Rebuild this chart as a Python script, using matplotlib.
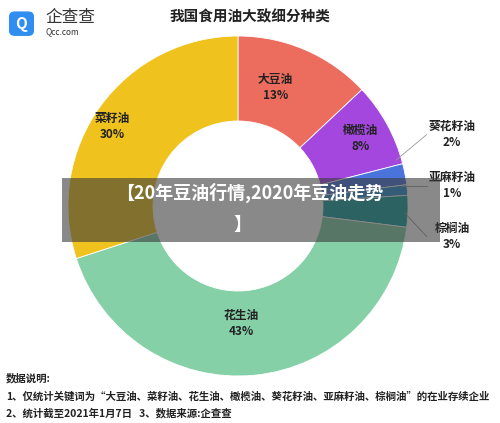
import matplotlib
matplotlib.use("Agg")
import matplotlib.pyplot as plt
from matplotlib.patches import FancyBboxPatch, Rectangle

plt.rcParams['font.family'] = ['Noto Sans CJK SC', 'DejaVu Sans']

labels = ['大豆油', '橄榄油', '葵花籽油', '亚麻籽油', '棕榈油', '花生油', '菜籽油']
shares = [13, 8, 2, 1, 3, 43, 30]
colors = ['#ec6d5e', '#a347de', '#4a74dc', '#2f8fd0', '#1a9e9e', '#86d0a8', '#efc21e']

fig = plt.figure(figsize=(5, 4.23), dpi=100)
fig.patch.set_facecolor('white')

# donut
ax = fig.add_axes([0.476 - 0.34, 0.513 - 0.402, 0.68, 0.804])
wedges, _ = ax.pie(shares, colors=colors, startangle=90, counterclock=False,
                   radius=1.0, wedgeprops=dict(width=0.5, edgecolor='white', linewidth=0.6))
ax.set_aspect('equal')
ax.set_xlim(-1, 1)
ax.set_ylim(-1, 1)
ax.axis('off')

# inside labels
inside = {'大豆油': (0.22, 0.70), '橄榄油': (0.72, 0.40), '花生油': (0.02, -0.69), '菜籽油': (-0.74, 0.47)}
for name, (x, y) in inside.items():
    i = labels.index(name)
    ax.text(x, y, f'{name}\n{shares[i]}%', ha='center', va='center', fontsize=8.5,
            color='#222222', linespacing=1.3, fontweight='bold')

# outside labels with leader lines
outside = {'葵花籽油': ((0.93, 0.27), (1.24, 0.42)),
           '亚麻籽油': ((0.96, 0.12), (1.24, 0.12)),
           '棕榈油': ((0.98, -0.04), (1.24, -0.18))}
for name, (p0, p1) in outside.items():
    i = labels.index(name)
    ax.plot([p0[0], p1[0] - 0.13], [p0[1], p1[1]], color='#999999', lw=0.6, clip_on=False)
    ax.text(p1[0] + 0.02, p1[1], f'{name}\n{shares[i]}%', ha='center', va='center',
            fontsize=8.5, color='#222222', linespacing=1.3, fontweight='bold')

# title and logo
fig.text(0.5, 0.962, '我国食用油大致细分种类', ha='center', va='center', fontsize=10.5,
         fontweight='bold', color='#222222')
fig.patches.append(FancyBboxPatch((0.018, 0.915), 0.05, 0.058, boxstyle='round,pad=0,rounding_size=0.012',
                                  transform=fig.transFigure, facecolor='#2f8ef0', edgecolor='none'))
fig.text(0.043, 0.944, 'Q', ha='center', va='center', fontsize=11, color='white', fontweight='bold')
fig.text(0.09, 0.958, '企查查', ha='left', va='center', fontsize=12, color='#333333')
fig.text(0.09, 0.925, 'Qcc.com', ha='left', va='center', fontsize=6, color='#333333')

# banner overlay
fig.patches.append(Rectangle((0.124, 0.428), 0.756, 0.152, transform=fig.transFigure,
                             facecolor='#3a3a3a', alpha=0.6, edgecolor='none'))
fig.text(0.5, 0.545, '【20年豆油行情,2020年豆油走势', ha='center', va='center', fontsize=13,
         fontweight='bold', color='white')
fig.text(0.486, 0.47, '】', ha='center', va='center', fontsize=13, fontweight='bold', color='white')

# notes
fig.text(0.012, 0.105, '数据说明:', ha='left', va='center', fontsize=7.5, fontweight='bold', color='#222222')
fig.text(0.012, 0.063, '1、仅统计关键词为“大豆油、菜籽油、花生油、橄榄油、葵花籽油、亚麻籽油、棕榈油”的在业存续企业',
         ha='left', va='center', fontsize=7.5, fontweight='bold', color='#222222')
fig.text(0.012, 0.022, '2、统计截至2021年1月7日   3、数据来源:企查查', ha='left', va='center',
         fontsize=7.5, fontweight='bold', color='#222222')

fig.savefig('out.png', dpi=100)
